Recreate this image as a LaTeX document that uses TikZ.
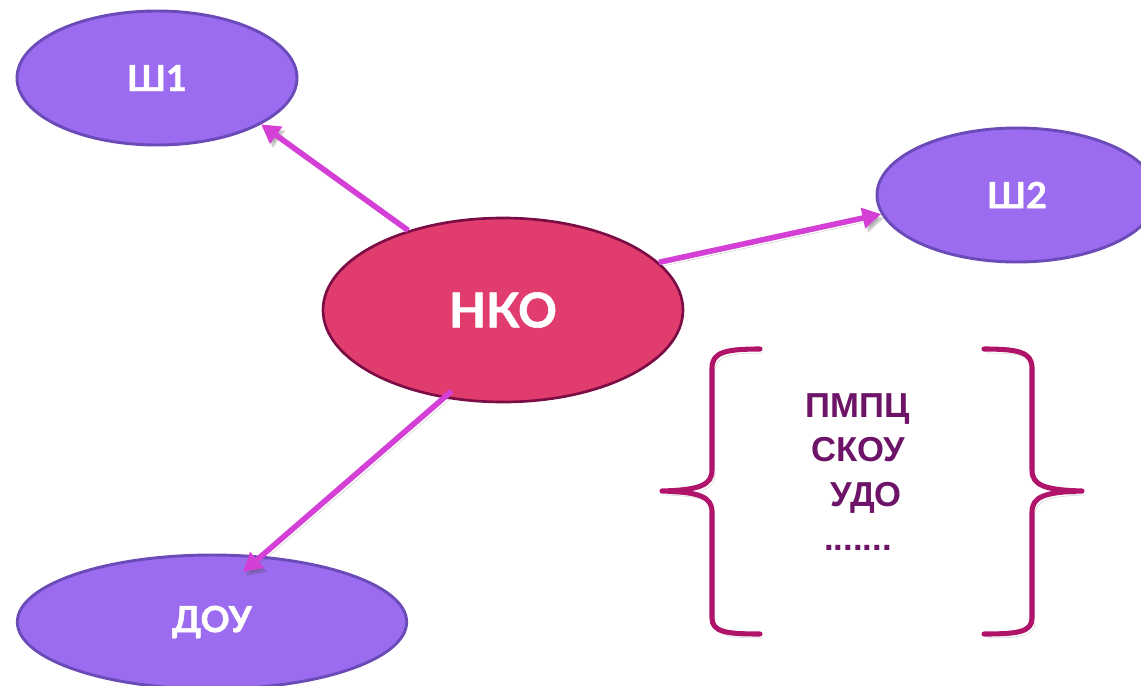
\documentclass[tikz,border=0pt]{standalone}
\usepackage{fontspec}
\setmainfont{Liberation Sans}
\newfontfamily\labelfont[FakeBold=1.2]{Lato}
\usetikzlibrary{shapes.geometric,arrows.meta}
\definecolor{violetfill}{HTML}{9B6BF0}
\definecolor{violetline}{HTML}{6B4BB8}
\definecolor{nkofill}{HTML}{E03D6E}
\definecolor{nkoline}{HTML}{7B0C45}
\definecolor{arrowcol}{HTML}{D440D6}
\definecolor{bracecol}{HTML}{B0146A}
\definecolor{listcol}{HTML}{6D1468}
\tikzset{
  smallell/.style={ellipse, draw=violetline, line width=2.2pt, fill=violetfill,
    minimum width=210pt, minimum height=100.5pt, inner sep=0pt,
    text=white, font=\labelfont\bfseries\fontsize{27}{30}\selectfont},
  nkoell/.style={ellipse, draw=nkoline, line width=2pt, fill=nkofill,
    minimum width=270pt, minimum height=138pt, inner sep=0pt,
    text=white, font=\labelfont\bfseries\fontsize{36}{40}\selectfont},
  shadowed/.style={preaction={draw=black!70, opacity=0.25,
    transform canvas={shift={(2.2pt,-3pt)}}}},
  link/.style={draw=arrowcol, line width=4.2pt, shadowed,
    -{Triangle[length=14pt,width=15pt]}},
  bracestroke/.style={draw=bracecol, line width=3.8pt, line cap=round,
    line join=round, shadowed},
  listtext/.style={text=listcol, align=center, inner sep=0pt,
    font=\bfseries\fontsize{26}{33.2}\selectfont}
}
\begin{document}
\begin{tikzpicture}[x=0.75pt,y=-0.75pt]
\useasboundingbox (0,0) rectangle (1141,685);
\clip (0,0) rectangle (1141,685);

% nodes
\node[smallell] (sh1) at (157,78) {Ш1};
\node[smallell] (sh2) at (1017,195) {Ш2};
\node[smallell, minimum width=292pt] (dou) at (212,622) {ДОУ};
\node[nkoell] (nko) at (503,310) {НКО};

% connectors
\coordinate (douin) at (243,572);
\draw[link] (nko.140.6) -- (sh1.-24.9);
\draw[link] (nko.17.7) -- (sh2.-172.8);
\draw[link, shorten <=-8pt] (nko.-124.6) -- (douin);

% braces
\draw[bracestroke] (760,349) .. controls (726,349) and (712,352) .. (712,368)
  -- (712,470) .. controls (712,485) and (700,490) .. (662,491)
  .. controls (700,492) and (712,497) .. (712,512)
  -- (712,618) .. controls (712,632) and (726,634) .. (760,634);
\draw[bracestroke] (984,349) .. controls (1018,349) and (1032,352) .. (1032,368)
  -- (1032,470) .. controls (1032,485) and (1044,490) .. (1082,491)
  .. controls (1044,492) and (1032,497) .. (1032,512)
  -- (1032,618) .. controls (1032,632) and (1018,634) .. (984,634);

% list
\node[listtext] (list) at (858,472) {ПМПЦ\\СКОУ\\\hspace{12pt}УДО\\.......};
\end{tikzpicture}
\end{document}
